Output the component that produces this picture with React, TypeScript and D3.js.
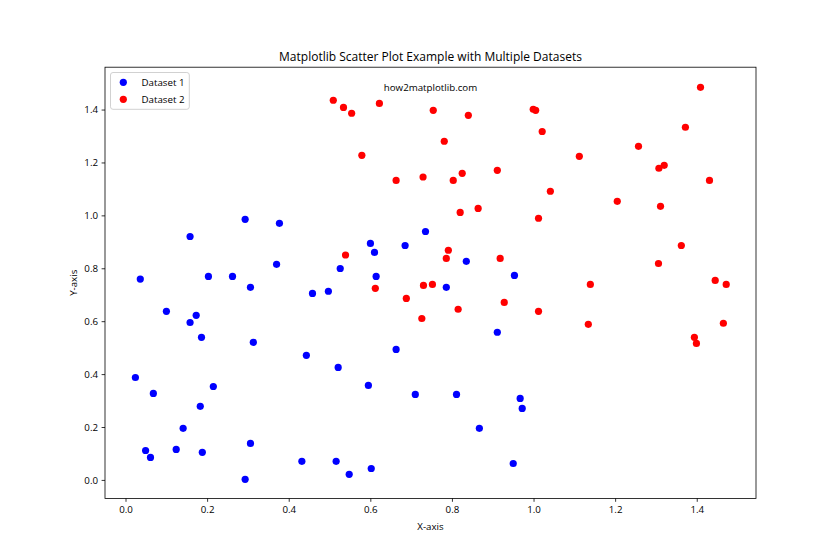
import React from "react";
import * as d3 from "d3";

const blueX = [0.292,0.157,0.376,0.734,0.599,0.609,0.684,0.369,0.525,0.035,0.202,0.261,0.613,0.834,0.952,0.305,0.457,0.496,0.099,0.172,0.157,0.185,0.312,0.442,0.520,0.662,0.023,0.214,0.594,0.709,0.067,0.182,0.140,0.305,0.048,0.123,0.187,0.060,0.431,0.515,0.601,0.547,0.292,0.785,0.910,0.810,0.966,0.971,0.866,0.949];
const blueY = [0.987,0.922,0.972,0.941,0.896,0.862,0.888,0.817,0.801,0.761,0.771,0.771,0.771,0.828,0.775,0.730,0.707,0.715,0.639,0.624,0.597,0.541,0.522,0.473,0.427,0.495,0.389,0.355,0.359,0.325,0.329,0.280,0.197,0.140,0.113,0.117,0.106,0.087,0.072,0.072,0.045,0.023,0.004,0.730,0.560,0.325,0.310,0.272,0.197,0.064];
const redX = [0.508,0.533,0.553,0.621,0.578,0.662,0.728,0.538,1.408,0.753,0.839,0.998,1.004,1.020,1.371,0.780,1.256,1.111,1.306,1.319,0.802,0.824,0.910,1.430,1.040,1.204,1.310,0.819,0.863,1.011,1.361,1.305,0.790,0.785,0.917,1.444,0.611,0.729,0.687,0.725,0.751,0.814,0.927,1.011,1.138,1.133,1.471,1.464,1.393,1.398];
const redY = [1.437,1.410,1.388,1.425,1.229,1.134,1.147,0.852,1.486,1.399,1.380,1.403,1.399,1.319,1.335,1.282,1.263,1.225,1.180,1.191,1.134,1.161,1.172,1.134,1.093,1.055,1.036,1.013,1.028,0.991,0.888,0.820,0.870,0.839,0.839,0.756,0.726,0.737,0.688,0.612,0.741,0.647,0.673,0.639,0.741,0.590,0.741,0.594,0.541,0.518];

const xTicks = [0.0, 0.2, 0.4, 0.6, 0.8, 1.0, 1.2, 1.4];
const yTicks = [0.0, 0.2, 0.4, 0.6, 0.8, 1.0, 1.2, 1.4];
const seriesNames = ["Dataset 1", "Dataset 2"];
const seriesColors = ["#0000ff", "#ff0000"];
const titleText = "Matplotlib Scatter Plot Example with Multiple Datasets";
const xLabel = "X-axis";
const yLabel = "Y-axis";
const watermark = "how2matplotlib.com";

const W = 840, H = 560;
const L = 105, R = 756, T = 67.2, B = 498.4;
const FONT = "'Segoe UI', 'Open Sans', 'Noto Sans', sans-serif";

export default function App() {
  const x = d3.scaleLinear().domain([-0.0515, 1.544]).range([L, R]);
  const y = d3.scaleLinear().domain([-0.068, 1.562]).range([B, T]);
  const fmt = d3.format(".1f");
  const series = [
    { xs: blueX, ys: blueY },
    { xs: redX, ys: redY },
  ];
  const r = 3.6;
  return (
    <svg width={W} height={H} style={{ position: "absolute", left: 0, top: 0, background: "#fff" }} fontFamily={FONT}>
      <rect x={0} y={0} width={W} height={H} fill="#fff" />
      {series.map((s, si) => (
        <g key={si} fill={seriesColors[si]}>
          {s.xs.map((v, i) => (
            <circle key={i} cx={x(v)} cy={y(s.ys[i])} r={r} />
          ))}
        </g>
      ))}
      <rect x={L} y={T} width={R - L} height={B - T} fill="none" stroke="#000" strokeWidth={0.8} />
      {xTicks.map((t) => (
        <g key={"x" + t}>
          <line x1={x(t)} x2={x(t)} y1={B} y2={B + 3.4} stroke="#000" strokeWidth={0.8} />
          <text x={x(t)} y={B + 15} textAnchor="middle" fontSize={9.72} fill="#000">{fmt(t)}</text>
        </g>
      ))}
      {yTicks.map((t) => (
        <g key={"y" + t}>
          <line x1={L - 3.4} x2={L} y1={y(t)} y2={y(t)} stroke="#000" strokeWidth={0.8} />
          <text x={L - 7} y={y(t)} dy="0.35em" textAnchor="end" fontSize={9.72} fill="#000">{fmt(t)}</text>
        </g>
      ))}
      <text x={(L + R) / 2} y={529.5} textAnchor="middle" fontSize={9.72} fill="#000">{xLabel}</text>
      <text transform={`translate(77,${(T + B) / 2}) rotate(-90)`} textAnchor="middle" fontSize={9.72} fill="#000">{yLabel}</text>
      <text x={(L + R) / 2} y={61.2} textAnchor="middle" fontSize={12} fill="#000">{titleText}</text>
      <text x={(L + R) / 2} y={91} textAnchor="middle" fontSize={9.72} fill="#000">{watermark}</text>
      <g>
        <rect x={110.5} y={72.5} width={78.8} height={36.8} rx={2.5} fill="#fff" fillOpacity={0.8} stroke="#cccccc" strokeWidth={0.9} />
        {seriesNames.map((n, i) => (
          <g key={n}>
            <circle cx={123.3} cy={82.3 + i * 17} r={r} fill={seriesColors[i]} />
            <text x={141.5} y={82.3 + i * 17} dy="0.35em" fontSize={9.72} fill="#000">{n}</text>
          </g>
        ))}
      </g>
    </svg>
  );
}
